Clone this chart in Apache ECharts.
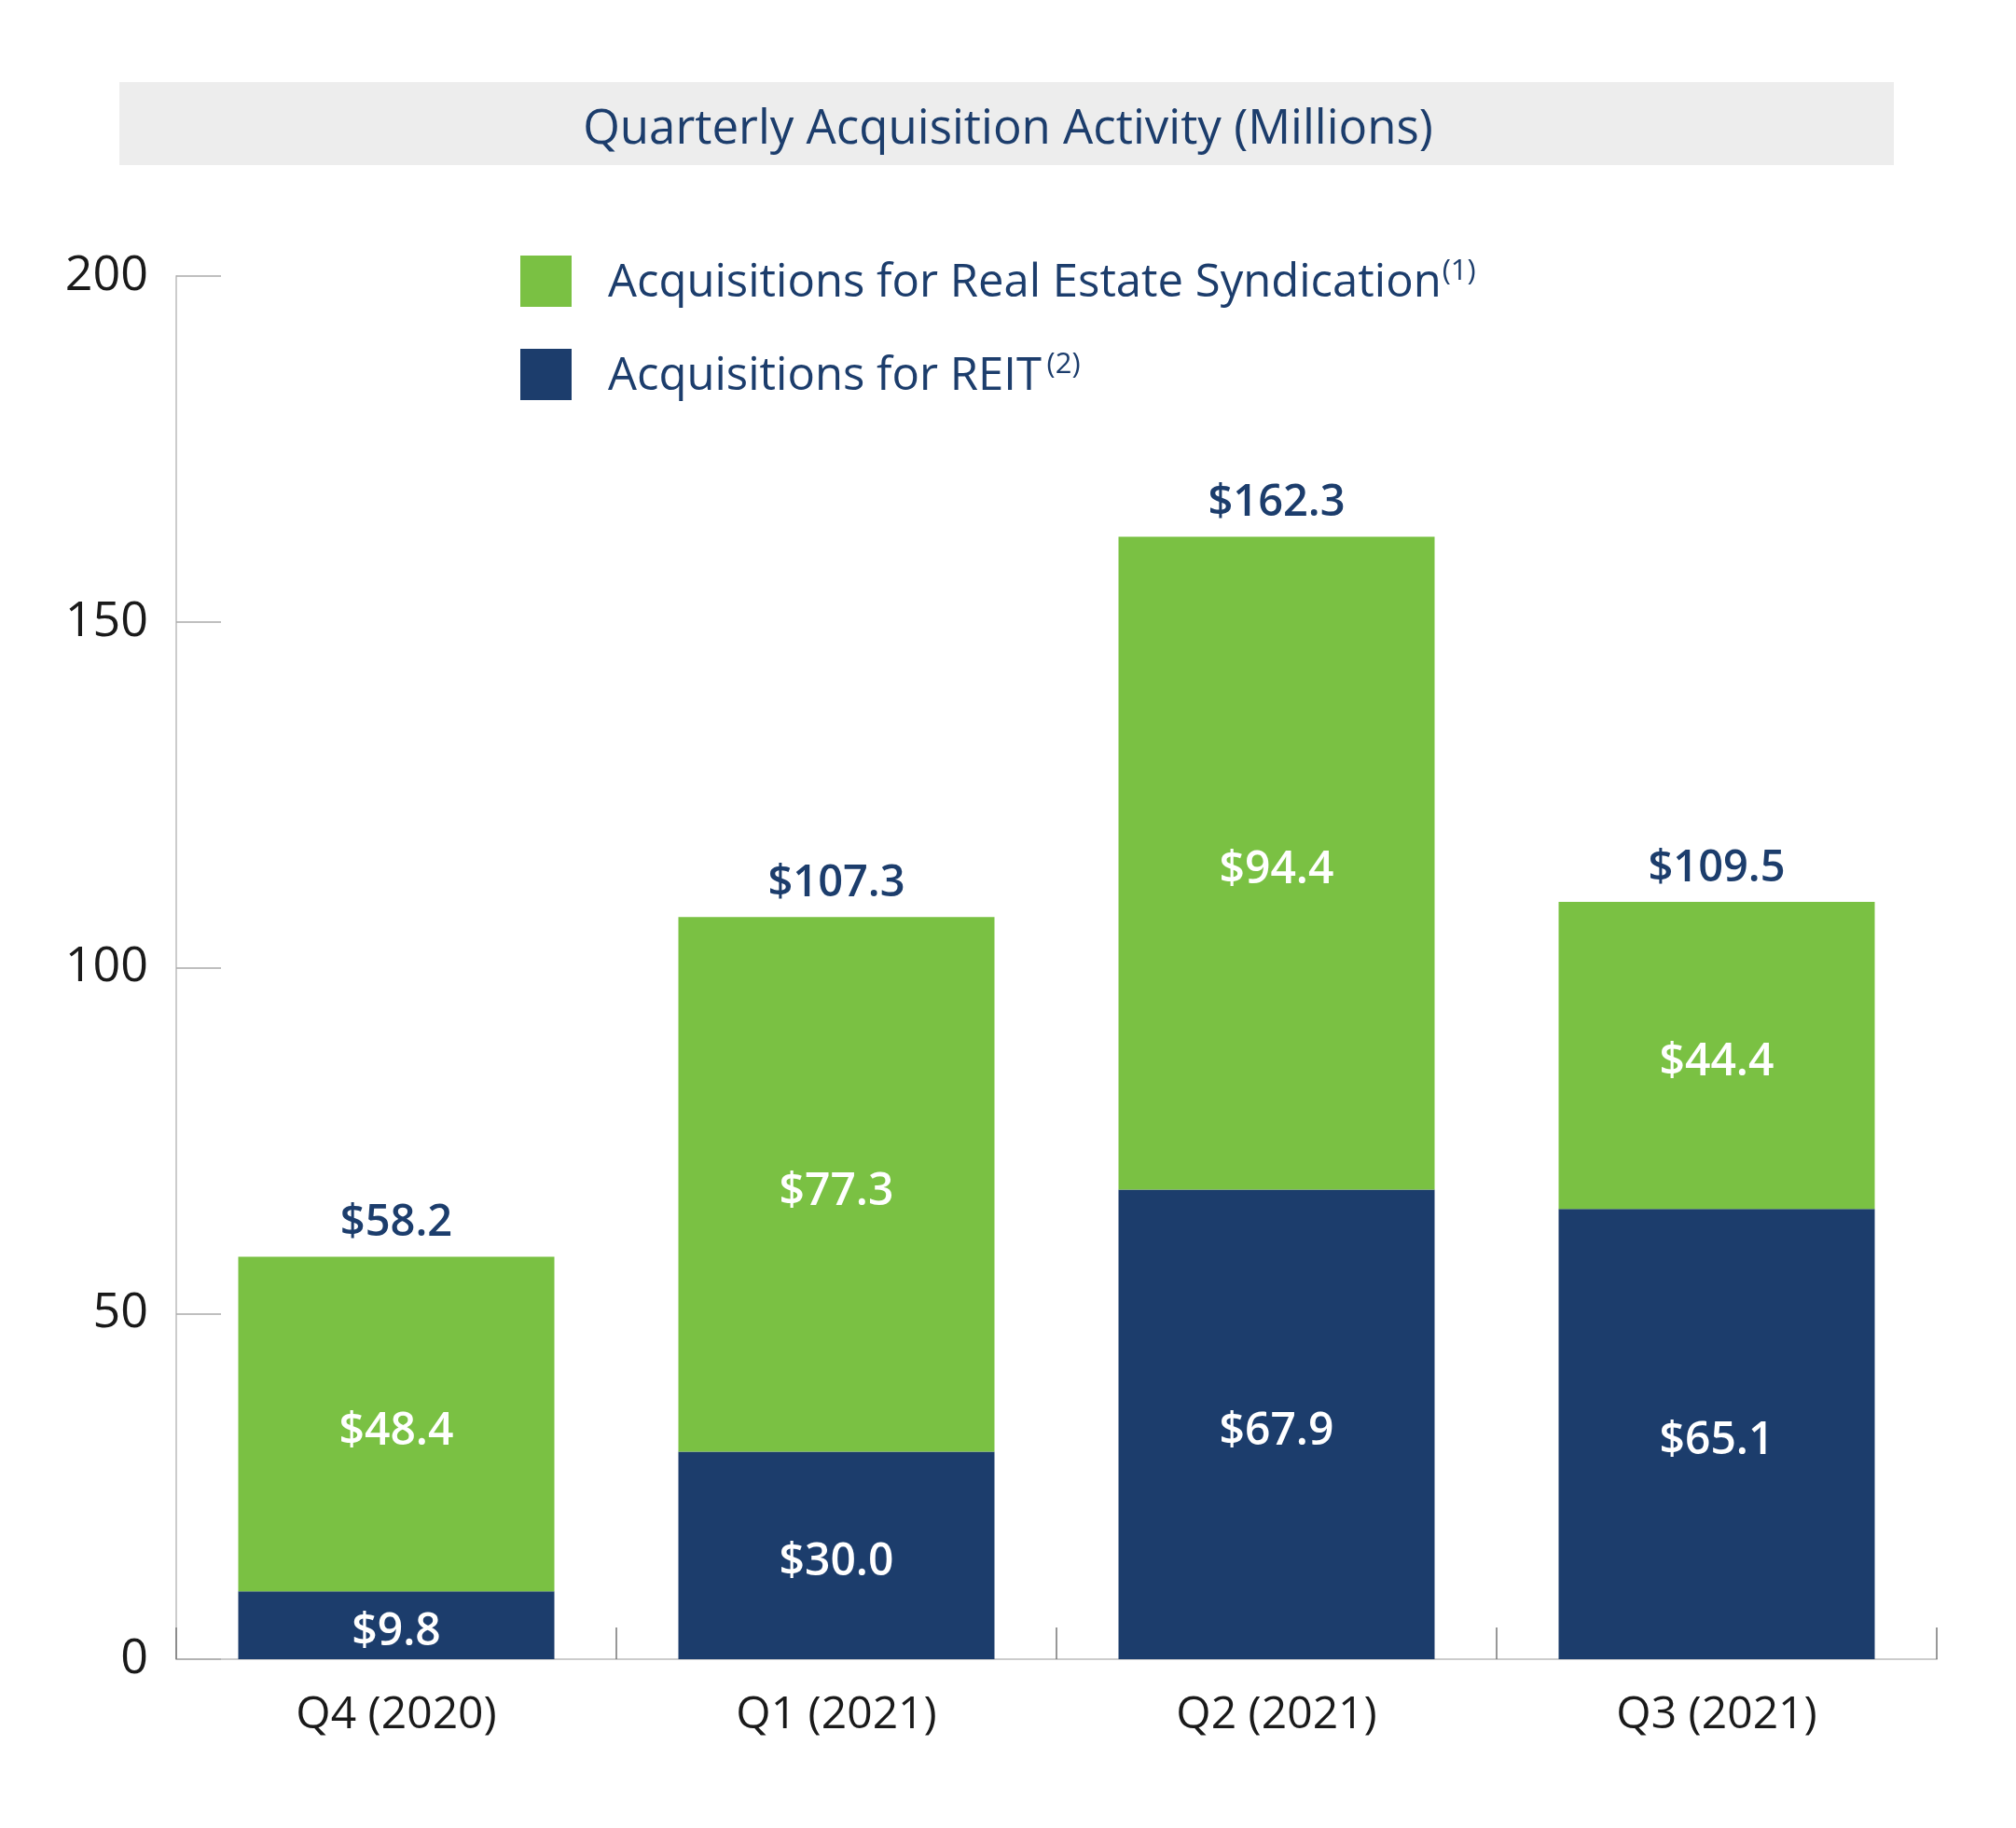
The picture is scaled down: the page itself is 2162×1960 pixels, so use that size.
<!DOCTYPE html>
<html>
<head>
<meta charset="utf-8">
<script src="https://cdn.jsdelivr.net/npm/echarts@6/dist/echarts.min.js"></script>
<style>html,body{margin:0;padding:0;background:#fff}#c{width:2162px;height:1960px}</style>
</head>
<body>
<div id="c"></div>
<script>
const categories = ['Q4 (2020)', 'Q1 (2021)', 'Q2 (2021)', 'Q3 (2021)'];
const reitValues = [9.8, 30.0, 67.9, 65.1];
const syndicationValues = [48.4, 77.3, 94.4, 44.4];
const totalValues = [58.2, 107.3, 162.3, 109.5];
const yTicks = [0, 50, 100, 150, 200];
const titleText = 'Quarterly Acquisition Activity (Millions)';
const seriesNames = ['Acquisitions for Real Estate Syndication', 'Acquisitions for REIT'];
const footnotes = ['(1)', '(2)'];

const NAVY = '#1c3d6c';
const GREEN = '#7ac143';
const FONT = '"Open Sans", "Noto Sans", sans-serif';

const chart = echarts.init(document.getElementById('c'));
const money = v => '$' + v.toFixed(1);

chart.setOption({
  backgroundColor: '#ffffff',
  animation: false,
  textStyle: { fontFamily: FONT },
  graphic: [{
    type: 'rect', z: -10,
    shape: { x: 128, y: 88, width: 1903, height: 89 },
    style: { fill: '#ededed' }
  }],
  title: {
    text: titleText,
    left: 'center',
    top: 109,
    textStyle: { fontFamily: FONT, fontSize: 51, fontWeight: 'normal', color: NAVY }
  },
  legend: {
    data: seriesNames,
    orient: 'vertical',
    left: 553,
    top: 269,
    itemWidth: 55,
    itemHeight: 55,
    itemGap: 45,
    icon: 'rect',
    selectedMode: false,
    formatter: function (name) {
      const i = seriesNames.indexOf(name);
      return '{a|' + name + '}' + (i === 1 ? '{sp| }' : '{sq| }') + '{s|' + footnotes[i] + '}';
    },
    textStyle: {
      fontFamily: FONT,
      color: NAVY,
      rich: {
        a: { fontFamily: FONT, fontSize: 49, color: NAVY, padding: [0, 0, 0, 34], lineHeight: 55, verticalAlign: 'bottom' },
        sp: { fontSize: 22, lineHeight: 55 },
        sq: { fontSize: 4, lineHeight: 55 },
        s: { fontFamily: FONT, fontSize: 31, color: NAVY, verticalAlign: 'top', lineHeight: 34, padding: [2, 0, 0, 0] }
      }
    }
  },
  grid: { left: 189, right: 85, top: 296, bottom: 181, containLabel: false },
  xAxis: {
    type: 'category',
    data: categories,
    axisLine: { show: true, lineStyle: { color: '#cccccc', width: 2 } },
    axisTick: { show: true, inside: true, length: 34, lineStyle: { color: '#777777', width: 1.5 } },
    axisLabel: { margin: 36, fontFamily: FONT, fontSize: 48, color: '#1a1a1a' },
    splitLine: { show: false }
  },
  yAxis: {
    type: 'value',
    min: 0, max: 200, interval: 50,
    axisLine: { show: true, lineStyle: { color: '#cccccc', width: 2 } },
    axisTick: { show: true, inside: true, length: 48, lineStyle: { color: '#aaaaaa', width: 1.5 } },
    axisLabel: {
      margin: 30, fontFamily: FONT, fontSize: 52, color: '#1a1a1a',
      padding: [8, 0, 0, 0],
      formatter: v => yTicks.includes(v) ? String(v) : ''
    },
    splitLine: { show: false }
  },
  series: [
    {
      name: seriesNames[1],
      type: 'bar',
      stack: 'total',
      data: reitValues,
      barWidth: 339,
      itemStyle: { color: NAVY },
      label: {
        show: true, position: 'inside', offset: [0, 8], color: '#ffffff',
        fontFamily: FONT, fontSize: 48, fontWeight: 600,
        formatter: p => money(p.value)
      }
    },
    {
      name: seriesNames[0],
      type: 'bar',
      stack: 'total',
      data: syndicationValues,
      barWidth: 339,
      itemStyle: { color: GREEN },
      label: {
        show: true, position: 'inside', offset: [0, 8], color: '#ffffff',
        fontFamily: FONT, fontSize: 48, fontWeight: 600,
        formatter: p => money(p.value)
      }
    },
    {
      name: 'Total',
      type: 'bar',
      data: totalValues,
      barWidth: 339,
      barGap: '-100%',
      z: 0,
      silent: true,
      itemStyle: { color: 'rgba(0,0,0,0)' },
      label: {
        show: true, position: 'top', distance: 12, color: NAVY,
        fontFamily: FONT, fontSize: 47, fontWeight: 600,
        formatter: p => money(p.value)
      }
    }
  ]
});
</script>
</body>
</html>
